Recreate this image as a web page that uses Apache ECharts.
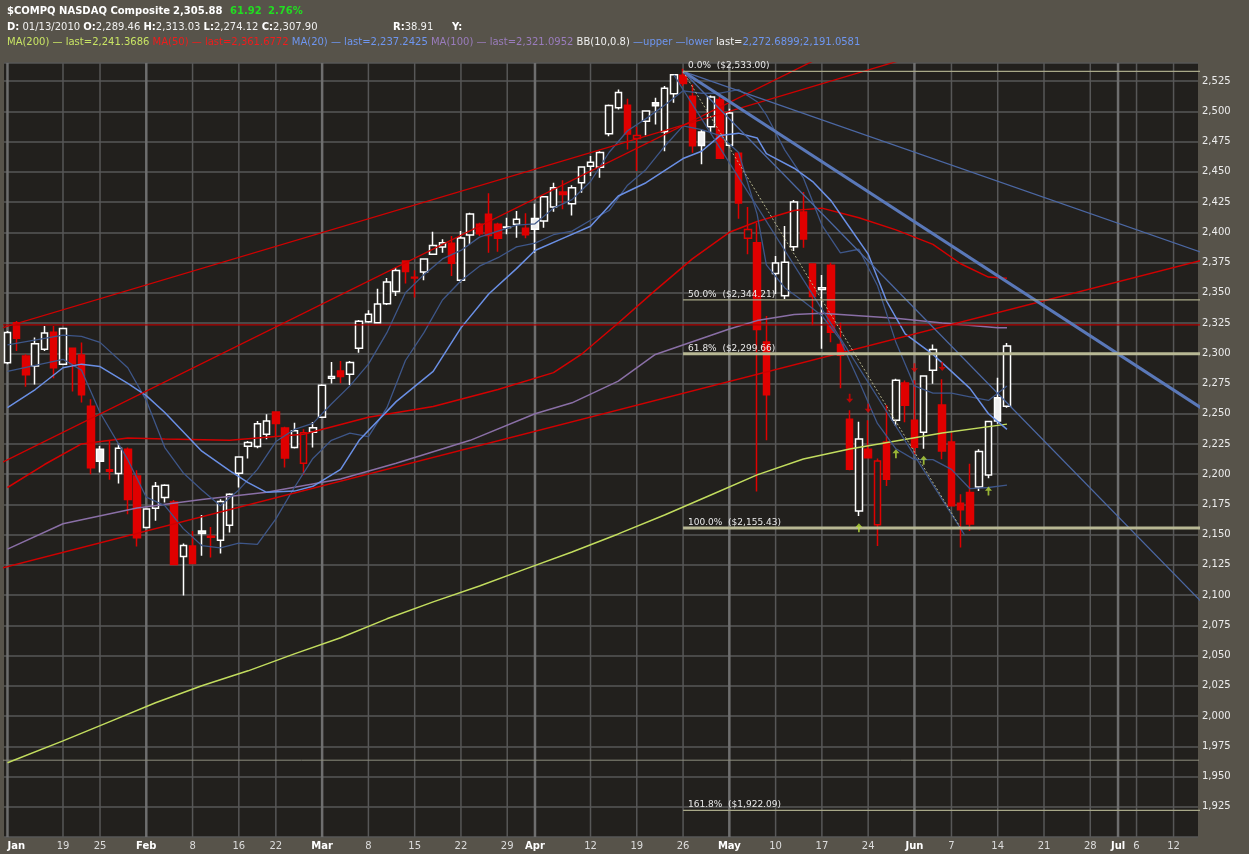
<!DOCTYPE html>
<html><head><meta charset="utf-8">
<script src="https://cdn.jsdelivr.net/npm/echarts@6/dist/echarts.min.js"></script>
<style>html,body{margin:0;padding:0;background:#57534a;}#c{width:1249px;height:854px;}</style>
</head><body><div id="c"></div>
<script>
// ---- trading calendar (x axis) ----
const tradingDays = [
'2010-01-08','2010-01-11','2010-01-12','2010-01-13','2010-01-14','2010-01-15','2010-01-19','2010-01-20','2010-01-21','2010-01-22',
'2010-01-25','2010-01-26','2010-01-27','2010-01-28','2010-01-29','2010-02-01','2010-02-02','2010-02-03','2010-02-04','2010-02-05',
'2010-02-08','2010-02-09','2010-02-10','2010-02-11','2010-02-12','2010-02-16','2010-02-17','2010-02-18','2010-02-19','2010-02-22',
'2010-02-23','2010-02-24','2010-02-25','2010-02-26','2010-03-01','2010-03-02','2010-03-03','2010-03-04','2010-03-05','2010-03-08',
'2010-03-09','2010-03-10','2010-03-11','2010-03-12','2010-03-15','2010-03-16','2010-03-17','2010-03-18','2010-03-19','2010-03-22',
'2010-03-23','2010-03-24','2010-03-25','2010-03-26','2010-03-29','2010-03-30','2010-03-31','2010-04-01','2010-04-05','2010-04-06',
'2010-04-07','2010-04-08','2010-04-09','2010-04-12','2010-04-13','2010-04-14','2010-04-15','2010-04-16','2010-04-19','2010-04-20',
'2010-04-21','2010-04-22','2010-04-23','2010-04-26','2010-04-27','2010-04-28','2010-04-29','2010-04-30','2010-05-03','2010-05-04',
'2010-05-05','2010-05-06','2010-05-07','2010-05-10','2010-05-11','2010-05-12','2010-05-13','2010-05-14','2010-05-17','2010-05-18',
'2010-05-19','2010-05-20','2010-05-21','2010-05-24','2010-05-25','2010-05-26','2010-05-27','2010-05-28','2010-06-01','2010-06-02',
'2010-06-03','2010-06-04','2010-06-07','2010-06-08','2010-06-09','2010-06-10','2010-06-11','2010-06-14','2010-06-15',
'2010-06-16','2010-06-17','2010-06-18','2010-06-21','2010-06-22','2010-06-23','2010-06-24','2010-06-25','2010-06-28','2010-06-29',
'2010-06-30','2010-07-01','2010-07-02','2010-07-06','2010-07-07','2010-07-08','2010-07-09','2010-07-12','2010-07-13','2010-07-14','2010-07-15'];

// ---- daily prices (first 109 trading days) ----
const open = [2292.2,2325.3,2297.7,2289.5,2303.3,2317.3,2290.9,2304.1,2298.6,2256.2,
2220.6,2202.5,2200.5,2220.6,2198.6,2155.9,2171.8,2180.7,2177.1,2131.9,
2140.7,2153.1,2148.6,2145.4,2157.8,2200.8,2223.1,2222.8,2233.0,2251.5,
2238.2,2222.0,2209.0,2234.7,2247.1,2279.3,2285.4,2282.6,2304.1,2326.1,
2325.3,2341.0,2351.0,2376.3,2362.8,2367.2,2381.8,2387.9,2390.9,2360.3,
2397.8,2406.6,2414.9,2406.6,2404.0,2406.6,2403.3,2411.5,2409.3,2420.9,
2433.3,2423.7,2441.0,2454.7,2453.9,2481.4,2502.9,2505.1,2477.6,2491.9,
2507.1,2483.1,2514.5,2529.9,2512.6,2482.9,2487.3,2509.9,2471.9,2465.3,
2395.0,2391.4,2309.3,2366.0,2347.6,2388.1,2416.8,2373.8,2352.8,2372.8,
2307.3,2245.4,2169.6,2220.6,2158.1,2226.6,2244.5,2275.4,2244.5,2234.6,
2285.9,2257.2,2226.6,2175.9,2184.8,2189.4,2199.3,2263.3,2256.1];
const high = [2318.5,2326.7,2299.1,2313.0,2322.5,2322.5,2320.6,2304.5,2308.8,2261.9,
2223.4,2227.5,2225.6,2222.0,2203.3,2171.8,2193.6,2191.7,2178.7,2142.6,
2153.1,2166.3,2156.4,2179.3,2184.3,2214.3,2227.5,2244.0,2249.5,2251.5,
2239.3,2242.6,2237.1,2243.2,2274.3,2292.8,2293.6,2293.6,2327.5,2335.5,
2353.4,2362.2,2370.8,2376.3,2368.6,2378.5,2400.5,2394.2,2396.9,2401.1,
2416.2,2408.0,2432.2,2408.0,2412.1,2417.6,2415.7,2423.7,2430.0,2441.0,
2443.0,2439.0,2454.5,2463.0,2467.1,2505.7,2518.1,2510.4,2487.0,2500.7,
2511.2,2520.9,2530.2,2535.3,2522.3,2484.5,2513.2,2513.2,2502.2,2465.3,
2420.9,2408.0,2330.8,2380.4,2405.2,2426.7,2433.3,2373.8,2364.7,2374.9,
2325.2,2252.8,2243.4,2244.5,2212.9,2257.2,2279.0,2277.5,2277.6,2281.5,
2307.3,2278.4,2234.3,2183.4,2208.7,2220.6,2244.0,2279.8,2308.4];
const low = [2290.9,2301.9,2272.4,2274.1,2301.9,2279.3,2290.3,2268.3,2259.2,2200.0,
2201.3,2195.3,2192.2,2166.9,2140.2,2155.9,2161.4,2176.5,2125.4,2099.7,
2125.6,2132.5,2131.1,2134.4,2151.7,2188.9,2212.9,2221.5,2228.9,2231.6,
2205.5,2221.2,2199.4,2222.0,2246.8,2274.9,2275.2,2273.8,2300.5,2325.3,
2325.3,2339.9,2347.4,2357.6,2346.0,2360.3,2381.8,2383.2,2363.9,2358.4,
2390.1,2397.0,2383.2,2384.0,2398.3,2395.6,2395.0,2383.2,2403.8,2417.1,
2419.0,2414.0,2432.7,2446.5,2445.1,2479.5,2501.6,2468.5,2450.6,2480.3,
2489.2,2467.1,2507.1,2521.0,2465.8,2456.2,2482.9,2460.9,2471.0,2411.3,
2381.8,2185.6,2228.0,2349.0,2344.8,2384.5,2387.3,2323.2,2303.8,2309.0,
2271.0,2203.2,2165.5,2213.5,2140.7,2190.3,2239.9,2243.0,2216.4,2221.1,
2274.8,2212.3,2173.5,2139.3,2153.1,2186.1,2196.6,2241.8,2255.0];
const close = [2317.2,2312.4,2282.3,2307.9,2316.7,2288.0,2320.4,2291.3,2265.7,2205.3,
2210.8,2203.7,2221.4,2179.0,2147.4,2171.2,2190.1,2190.9,2125.4,2141.1,
2126.1,2150.9,2147.9,2177.4,2183.5,2214.2,2226.3,2241.7,2243.9,2242.0,
2213.4,2235.9,2234.2,2238.3,2273.6,2280.8,2280.7,2292.3,2326.4,2332.2,
2340.7,2359.0,2368.5,2367.7,2362.2,2378.0,2389.1,2391.3,2374.4,2395.4,
2415.2,2398.8,2397.4,2395.1,2404.4,2410.7,2398.0,2402.6,2429.5,2436.8,
2431.2,2436.8,2454.1,2457.9,2466.0,2504.9,2515.7,2481.3,2480.1,2500.3,
2504.6,2519.1,2530.2,2523.0,2471.5,2471.7,2511.9,2461.2,2498.7,2424.3,
2402.3,2319.6,2265.6,2374.7,2375.3,2425.0,2394.4,2346.9,2354.2,2317.3,
2298.4,2204.0,2229.0,2213.6,2211.0,2195.9,2277.7,2257.0,2222.3,2281.1,
2303.0,2219.2,2173.9,2170.6,2158.9,2218.7,2243.6,2244.0,2305.9];
const prevClose0 = 2300.05; // Jan 7 close

// ---- indicators: [trading-day index, value] ----
const ma200 = [[0,1961.4],[6,1979.5],[11,1995.2],[16,2011.0],[21,2025.0],[26,2037.4],[31,2051.4],[36,2064.7],[41,2080.4],[46,2094.4],[51,2107.6],[56,2121.7],[61,2135.7],[66,2150.6],[71,2166.3],[76,2182.8],[81,2199.4],[86,2212.6],[91,2220.9],[96,2227.5],[101,2234.1],[108,2241.4]];
const ma50 = [[0,2189],[4,2208],[8,2225],[13,2230],[17,2229],[24,2228],[32,2233],[39,2247],[46,2256],[53,2270],[59,2284],[62,2299],[66,2325],[70,2352],[74,2378],[78,2400],[81,2409],[85,2418],[88,2420],[92,2412],[96,2402],[100,2390],[103,2374],[106,2363],[108,2362]];
const ma100 = [[0,2138],[6,2159],[14,2172],[21,2179],[28,2185],[36,2196],[42,2209],[50,2228],[57,2250],[61,2259],[66,2277],[70,2299],[78,2320],[81,2327],[85,2332],[88,2333],[96,2329],[101,2325],[107,2321],[108,2321]];
const ma20 = [[0,2255],[3,2270],[6,2288],[8,2291],[10,2289],[13,2275],[15,2265],[17,2251],[21,2219],[24,2203],[26,2193],[28,2185],[31,2186],[33,2190],[36,2204],[38,2228],[42,2260],[46,2285],[49,2321],[52,2349],[55,2370],[57,2385],[60,2395],[63,2405],[66,2430],[69,2441],[73,2461],[75,2467],[77,2480],[79,2482],[81,2478],[82,2465],[85,2453],[87,2442],[89,2426],[91,2404],[93,2382],[95,2343],[97,2316],[100,2299],[102,2285],[104,2271],[106,2250],[108,2237]];
const bbIdx = [0,6,8,10,13,15,17,19,21,23,25,27,29,31,33,35,37,39,41,43,45,47,49,51,53,55,57,59,61,63,65,67,69,71,73,75,77,79,81,82,84,86,88,90,92,94,96,98,100,102,104,106,108];
const bbUpper = [2307,2315,2314,2309,2288,2261,2222,2201,2187,2174,2187,2204,2227,2237,2242,2258,2273,2291,2317,2350,2365,2378,2385,2396,2401,2406,2407,2420,2427,2442,2466,2484,2494,2505,2517,2515,2515,2518,2508,2497,2468,2445,2406,2383,2386,2356,2309,2273,2267,2267,2264,2261,2273];
const bbLower = [2285,2295,2286,2251,2212,2181,2174,2155,2141,2139,2143,2142,2163,2189,2213,2228,2234,2231,2255,2294,2317,2344,2360,2372,2379,2388,2391,2398,2401,2410,2418,2439,2452,2471,2488,2485,2480,2466,2415,2373,2354,2343,2331,2311,2277,2242,2221,2212,2212,2204,2188,2189,2191];

// ---- drawn annotations: [index, value] endpoints ----
const redTop = [[-1,2320.0],[100,2550.2]];
const redMid = [[-1,2208.2],[90,2552.8]];
const redLow = [[-1,2121.6],[130,2378.7]];
const redFlat = [[-1,2323.5],[130,2323.5]];
const fanUpper = [[73,2533],[130,2380.8]];
const fanMain = [[73,2533],[130,2249.8]];
const fanLower = [[73,2533],[130,2086.7]];
const steepBlue = [[72,2530.2],[103.4,2150]];
const fibTrend = [[73,2533.00],[103,2155.43]];
const flat1963 = [[-1,1963.5],[130,1963.5]];
const fibStart = '2010-04-26';
const fibPct = ['0.0%','50.0%','61.8%','100.0%','161.8%'];
const fibPrice = [2533.00,2344.21,2299.66,2155.43,1922.09];

// ---- pattern arrows ----
const downArrows = [['2010-05-20',2262.7],['2010-05-24',2254.5],['2010-06-01',2288.0],['2010-06-04',2289.0]];
const upArrows = [['2010-05-21',2155.8],['2010-05-27',2217.0],['2010-06-02',2211.5],['2010-06-11',2186.0]];

// ---- x tick labels ----
const tickDates = ['2010-01-08','2010-01-19','2010-01-25','2010-02-01','2010-02-08','2010-02-16','2010-02-22','2010-03-01','2010-03-08','2010-03-15','2010-03-22','2010-03-29','2010-04-01','2010-04-12','2010-04-19','2010-04-26','2010-05-03','2010-05-10','2010-05-17','2010-05-24','2010-06-01','2010-06-07','2010-06-14','2010-06-21','2010-06-28','2010-07-01','2010-07-06','2010-07-12'];
const tickLabels = ['Jan','19','25','Feb','8','16','22','Mar','8','15','22','29','Apr','12','19','26','May','10','17','24','Jun','7','14','21','28','Jul','6','12'];

// ================= build =================
const FONT = '"DejaVu Sans", Verdana, sans-serif';
const BG = '#22201d', RED = '#e00000', WHITE = '#ffffff', WFILL = '#eeeeee';
const di = d => tradingDays.indexOf(d);

const candles = open.map((o, i) => {
  const c = close[i];
  const prev = i === 0 ? prevClose0 : close[i - 1];
  const edge = c >= prev ? WHITE : RED;
  const fill = c > o ? BG : (c >= prev ? WFILL : RED);
  return { value: [i, o, c, low[i], high[i]], itemStyle: { color: fill, color0: fill, borderColor: edge, borderColor0: edge } };
});

function lineSeries(data, color, width, extra) {
  return Object.assign({ type: 'line', data: data, symbol: 'none', smooth: false, clip: true, silent: true, z: 4,
    lineStyle: { color: color, width: width } }, extra || {});
}
const bbU = bbIdx.map((x, i) => [x, bbUpper[i]]);
const bbL = bbIdx.map((x, i) => [x, bbLower[i]]);
const fibX0 = di(fibStart);

const series = [
  { type: 'custom', z: 1, silent: true, clip: false,
    data: tickDates.map(d => [di(d), 2000]),
    renderItem: function (params, api) {
      const i = params.dataIndex;
      const x = api.coord([api.value(0), 2000])[0];
      const cs = params.coordSys;
      const lab = tickLabels[i];
      const isMonth = /[A-Za-z]/.test(lab);
      const isFirst = i === 0;
      return { type: 'group', children: [
        { type: 'line', shape: { x1: x, y1: cs.y, x2: x, y2: cs.y + cs.height },
          style: { stroke: isMonth ? '#6e6e6e' : '#575757', lineWidth: isMonth ? 2.5 : 1.5 } },
        { type: 'text', x: x, y: cs.y + cs.height + 9,
          style: { text: lab, fill: isMonth ? '#ffffff' : '#dcdcdc', font: (isMonth ? 'bold ' : '') + '10px ' + FONT,
            align: isFirst ? 'left' : 'center', verticalAlign: 'middle' } }
      ] };
    } },
  lineSeries(flat1963, '#8c8c7c', 1),
  lineSeries(ma200, '#c2dc5e', 1.5),
  lineSeries(ma100, '#8a6fa6', 1.5),
  lineSeries(ma50, '#d40000', 1.5),
  lineSeries(bbU, '#3e5688', 1.3),
  lineSeries(bbL, '#3e5688', 1.3),
  lineSeries(ma20, '#6a8fe4', 1.5),
  lineSeries(redFlat, '#b00000', 1.2),
  lineSeries(redTop, '#d00000', 1.3),
  lineSeries(redMid, '#d00000', 1.3),
  lineSeries(redLow, '#d00000', 1.3),
  lineSeries(fanUpper, '#4c68a4', 1.3),
  lineSeries(fanMain, '#5a78b8', 3),
  lineSeries(fanLower, '#4c68a4', 1.3),
  lineSeries(steepBlue, '#3e5688', 1.2),
  lineSeries(fibTrend, '#b4b48c', 1, { lineStyle: { color: '#b4b48c', width: 1, type: [2, 2] } }),
];
fibPrice.forEach((p, k) => {
  const thick = fibPct[k] === '61.8%' || fibPct[k] === '100.0%';
  series.push(lineSeries([[fibX0, p], [130, p]], thick ? '#b8b894' : '#a8a888', thick ? 3 : 1.2));
});
series.push({ type: 'custom', z: 6, silent: true, clip: false,
  data: fibPrice.map(p => [fibX0, p]),
  renderItem: function (params, api) {
    const pt = api.coord([api.value(0), api.value(1)]);
    return { type: 'text', x: pt[0] + 5, y: pt[1] - 1,
      style: { text: fibPct[params.dataIndex] + '  ($' + api.value(1).toLocaleString('en-US', {minimumFractionDigits: 2, maximumFractionDigits: 2}) + ')',
        fill: '#e8e8e8', font: '9px ' + FONT, align: 'left', verticalAlign: 'bottom' } };
  } });
series.push({ type: 'candlestick', z: 3, silent: true, barWidth: 7, data: candles,
  itemStyle: { borderWidth: 1.5 } });
series.push({ type: 'scatter', z: 7, silent: true, data: downArrows.map(a => [di(a[0]), a[1]]),
  symbol: 'path://M3,0 L5,0 L5,6 L8,6 L4,11 L0,6 L3,6 Z', symbolSize: [7, 9], itemStyle: { color: '#e00000' } });
series.push({ type: 'scatter', z: 7, silent: true, data: upArrows.map(a => [di(a[0]), a[1]]),
  symbol: 'path://M3,11 L5,11 L5,5 L8,5 L4,0 L0,5 L3,5 Z', symbolSize: [7, 9], itemStyle: { color: '#b8dc3c' } });

const fmt = v => String(v).replace(/\B(?=(\d{3})+(?!\d))/g, ',');

const option = {
  backgroundColor: '#57534a',
  animation: false,
  grid: { left: 4, right: 51, top: 63, bottom: 17, show: true, backgroundColor: BG, borderWidth: 0 },
  xAxis: { type: 'value', min: -0.375, max: 128.64, axisLine: { show: false }, axisTick: { show: false },
    axisLabel: { show: false }, splitLine: { show: false } },
  yAxis: { type: 'value', position: 'right', min: 1900, max: 2540, interval: 25,
    axisLine: { show: false }, axisTick: { show: false },
    axisLabel: { color: '#ececec', fontFamily: FONT, fontSize: 10, margin: 4, showMinLabel: false, showMaxLabel: false,
      formatter: v => (v % 25 === 0 && v > 1900 && v < 2540) ? fmt(v) : '' },
    splitLine: { lineStyle: { color: '#575757', width: 1.5 } } },
  series: series,
  graphic: [
    { type: 'text', x: 7, y: 11, style: { text: '$COMPQ NASDAQ Composite', fill: '#ffffff', font: 'bold 10px ' + FONT, verticalAlign: 'middle' } },
    { type: 'text', x: 173, y: 11, style: { text: '2,305.88', fill: '#ffffff', font: 'bold 10px ' + FONT, verticalAlign: 'middle' } },
    { type: 'text', x: 230, y: 11, style: { text: '61.92', fill: '#22dd22', font: 'bold 10px ' + FONT, verticalAlign: 'middle' } },
    { type: 'text', x: 268, y: 11, style: { text: '2.76%', fill: '#22dd22', font: 'bold 10px ' + FONT, verticalAlign: 'middle' } },
    { type: 'text', x: 7, y: 27, style: { text: '{b|D:} 01/13/2010 {b|O:}2,289.46 {b|H:}2,313.03 {b|L:}2,274.12 {b|C:}2,307.90',
      fill: '#f0f0f0', font: '10px ' + FONT, verticalAlign: 'middle',
      rich: { b: { fontWeight: 'bold', fill: '#ffffff', fontSize: 10, fontFamily: FONT } } } },
    { type: 'text', x: 393, y: 27, style: { text: '{b|R:}38.91', fill: '#f0f0f0', font: '10px ' + FONT, verticalAlign: 'middle',
      rich: { b: { fontWeight: 'bold', fill: '#ffffff', fontSize: 10, fontFamily: FONT } } } },
    { type: 'text', x: 452, y: 27, style: { text: 'Y:', fill: '#ffffff', font: 'bold 10px ' + FONT, verticalAlign: 'middle' } },
    { type: 'text', x: 7, y: 42, style: {
      text: '{g|MA(200) — last=2,241.3686} {r|MA(50) — last=2,361.6772} {b|MA(20) — last=2,237.2425} {p|MA(100) — last=2,321.0952} {w|BB(10,0.8)} {b|—upper —lower} {w|last=}{b|2,272.6899;2,191.0581}',
      font: '10px ' + FONT, verticalAlign: 'middle',
      rich: {
        g: { fill: '#c8e464', fontSize: 10, fontFamily: FONT },
        r: { fill: '#ee1c1c', fontSize: 10, fontFamily: FONT },
        b: { fill: '#6e96f0', fontSize: 10, fontFamily: FONT },
        p: { fill: '#9a7cbc', fontSize: 10, fontFamily: FONT },
        w: { fill: '#f0f0f0', fontSize: 10, fontFamily: FONT }
      } } }
  ]
};
const chart = echarts.init(document.getElementById('c'), null, { renderer: 'canvas' });
chart.setOption(option);
</script></body></html>
